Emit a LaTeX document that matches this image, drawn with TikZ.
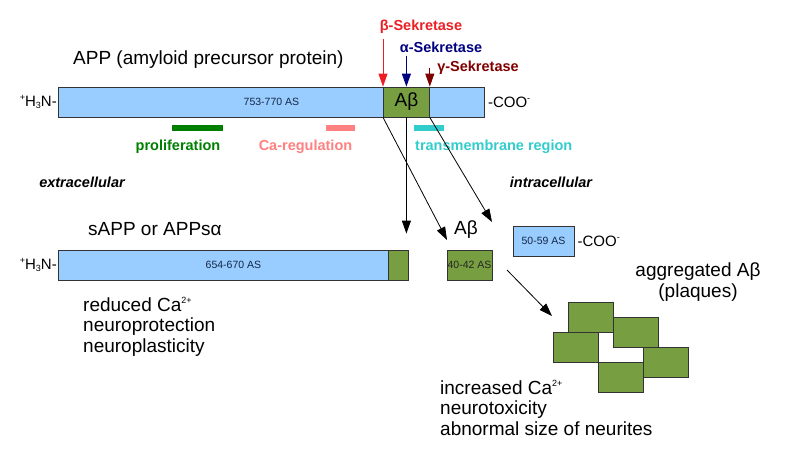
\documentclass[tikz,border=0pt]{standalone}
\usepackage{fontspec}
\setmainfont{Liberation Sans}
\usetikzlibrary{positioning, arrows.meta}
\definecolor{barblue}{RGB}{153,204,255}
\definecolor{abgreen}{RGB}{119,158,64}
\definecolor{prolgreen}{RGB}{0,128,0}
\definecolor{capink}{RGB}{255,128,128}
\definecolor{tmteal}{RGB}{51,204,204}
\definecolor{betared}{RGB}{235,30,35}
\definecolor{alphablue}{RGB}{0,0,128}
\definecolor{gammared}{RGB}{128,0,0}
\definecolor{astext}{RGB}{20,40,70}
\newcommand{\upidx}[1]{\raisebox{0.75ex}{\fontsize{9}{9}\selectfont #1}}
\newcommand{\lowidx}[1]{\raisebox{-0.35ex}{\fontsize{9}{9}\selectfont #1}}

\begin{document}
\begin{tikzpicture}[
    x=1pt, y=-1pt,
    bar/.style={rectangle, draw=black!80, line width=0.8pt, fill=barblue, minimum height=30pt, inner sep=0pt, font=\fontsize{10.5}{12}\selectfont, text=astext},
    abox/.style={rectangle, draw=black!80, line width=0.8pt, fill=abgreen, minimum height=30pt, inner sep=0pt},
    region/.style={rectangle, minimum height=6pt, inner sep=0pt},
    big/.style={font=\fontsize{19}{20.5}\selectfont, inner sep=0pt, align=left},
    term/.style={font=\fontsize{15}{17}\selectfont, inner sep=0pt},
    tag/.style={font=\fontsize{14.5}{16}\bfseries\selectfont, inner sep=0pt},
    side/.style={font=\fontsize{14.5}{16}\bfseries\itshape\selectfont, inner sep=0pt},
    arrow/.style={-{Triangle[length=13pt,width=9pt]}, line width=0.8pt}
]
\useasboundingbox (0,0) rectangle (800,461);

% full APP
\node (APP) [bar, minimum width=426pt, anchor=west] at (58,102) {753-770 AS};
\node (ABeta) [abox, minimum width=46pt, anchor=west, font=\fontsize{19}{20}\selectfont] at (383,102) {Aβ};
\node (Nterm) [term, left=1pt of APP] {\upidx{+}H\lowidx{3}N-};
\node (Cterm) [term, right=3pt of APP] {-COO\upidx{-}};
\node (APPtitle) [big, above right=18pt and 15pt of APP.north west] {APP (amyloid precursor protein)};

% secretases
\node (betalbl) [tag, text=betared] at (421,27) {β-Sekretase};
\node (alphalbl) [tag, text=alphablue] at (441,47) {α-Sekretase};
\node (gammalbl) [tag, text=gammared] at (478,68) {γ-Sekretase};
\draw [arrow, betared, shorten <=5pt] (betalbl.south -| ABeta.north west) -- (ABeta.north west);
\draw [arrow, alphablue, shorten <=3pt] (alphalbl.south -| ABeta.north) -- (ABeta.north);
\draw [arrow, gammared] (gammalbl.west -| ABeta.north east) -- (ABeta.north east);

% regions
\node (prolbar) [region, fill=prolgreen, minimum width=51pt] at (197.5,128) {};
\node (cabar) [region, fill=capink, minimum width=29pt] at (340.5,128) {};
\node (tmbar) [region, fill=tmteal, minimum width=30pt] at (429,128) {};
\node (prollbl) [tag, text=prolgreen] at (178,147) {proliferation};
\node (calbl) [tag, text=capink] at (305.5,147) {Ca-regulation};
\node (tmlbl) [tag, text=tmteal, anchor=west] at (415,147) {transmembrane region};

\node (extra) [side] at (82,182) {extracellular};
\node (intra) [side] at (551,182) {intracellular};

% sAPP
\node (sAPP) [bar, minimum width=350pt, anchor=west] at (58,265) {654-670 AS};
\node (sAPPend) [abox, minimum width=20pt, anchor=east] at (sAPP.east) {};
\node (sNterm) [term, left=1pt of sAPP] {\upidx{+}H\lowidx{3}N-};
\node (sAPPtitle) [big, above right=14pt and 30pt of sAPP.north west] {sAPP or APPsα};
\node (sAPPeffects) [big, anchor=west] at (83,327) {reduced Ca\upidx{2+}\\neuroprotection\\neuroplasticity};

% Abeta fragment
\node (abfrag) [abox, minimum width=45pt, font=\fontsize{10.5}{12}\selectfont, text=black!85] at (469.5,265) {40-42 AS};
\node (ablbl) [big] at (466,230) {Aβ};
\node (cfrag) [bar, minimum width=61pt] at (543.5,241) {50-59 AS};
\node (cfragC) [term, right=3pt of cfrag] {-COO\upidx{-}};

% cleavage products
\coordinate (abend) at (447,240);
\coordinate (gend) at (492,222);
\draw [arrow, shorten >=16pt] (ABeta.south) -- (ABeta.south |- sAPPend.north);
\draw [arrow] (ABeta.south west) -- (abend);
\draw [arrow] (ABeta.south east) -- (gend);

% plaques
\node (p1) [abox, minimum width=45pt] at (590.5,317) {};
\node (p2) [abox, minimum width=45pt] at (635.5,332) {};
\node (p3) [abox, minimum width=45pt] at (575.5,347.5) {};
\node (p4) [abox, minimum width=45pt] at (665.5,362) {};
\node (p5) [abox, minimum width=45pt] at (620.5,377.5) {};
\coordinate (aggstart) at (507,270);
\coordinate (aggend) at (552,316);
\draw [arrow] (aggstart) -- (aggend);
\node (agglbl) [big, align=center] at (698,282) {aggregated Aβ\\(plaques)};
\node (abeffects) [big, anchor=west] at (440,408) {increased Ca\upidx{2+}\\neurotoxicity\\abnormal size of neurites};

\end{tikzpicture}
\end{document}
